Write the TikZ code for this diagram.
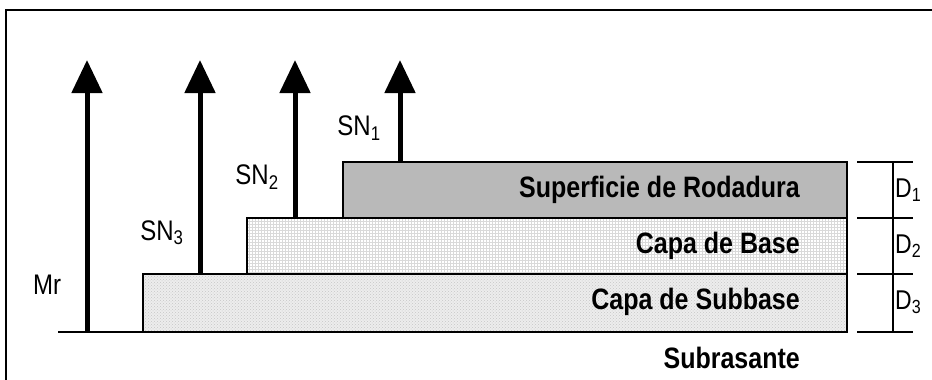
\documentclass[tikz,border=0pt]{standalone}
\usepackage{fontspec}
\setmainfont{Liberation Sans}
\usetikzlibrary{arrows.meta,patterns}
% tall text, as set in the drawing
\newcommand{\tall}[1]{\scalebox{1}[1.18]{#1}}
\begin{document}
\begin{tikzpicture}[x=1pt,y=-1pt,
  layer/.style={draw=black,line width=1.5pt,rectangle,anchor=north west,
    inner sep=0pt,outer sep=0pt},
  layertext/.style={font=\bfseries\fontsize{25}{29}\selectfont,anchor=east,inner sep=0pt},
  sntext/.style={font=\fontsize{24}{28}\selectfont,inner sep=0pt},
  dimtext/.style={font=\fontsize{23}{27}\selectfont,anchor=west,inner sep=0pt},
  snarrow/.style={line width=5pt,-{Triangle[width=30pt,length=33pt]}},
  dimline/.style={line width=1.2pt}]
\useasboundingbox (0,0) rectangle (932,380);
% outer frame (open to the right and bottom)
\draw[line width=2pt] (6,380) -- (6,10) -- (932,10);

% pavement layers
\node[layer,preaction={fill=gray!14},pattern=crosshatch dots,pattern color=gray!45,
  minimum width=704pt,minimum height=58pt] (sub) at (143,274) {};
\node[layer,pattern=grid,pattern color=gray!30,
  minimum width=600pt,minimum height=56pt] (base) at (247,218) {};
\node[layer,fill=gray!55,
  minimum width=504pt,minimum height=56pt] (surf) at (343,162) {};

% subgrade line
\coordinate (g0) at (58,332);
\coordinate (g1) at (847,332);
\draw[line width=1.5pt] (g0) -- (g1);

% layer names
\node[layertext] (tsurf) at (800,190) {\tall{Superficie de Rodadura}};
\node[layertext] (tbase) at (800,246) {\tall{Capa de Base}};
\node[layertext] (tsub) at (800,302) {\tall{Capa de Subbase}};
\node[layertext] (tsubr) at (800,358) {\tall{Subrasante}};

% structural number arrows
\coordinate (a0) at (87,332);   \coordinate (b0) at (87,60);
\coordinate (a3) at (200,274);  \coordinate (b3) at (200,60);
\coordinate (a2) at (295,218);  \coordinate (b2) at (295,60);
\coordinate (a1) at (400,162);  \coordinate (b1) at (400,60);
\draw[snarrow] (a0) -- (b0);
\draw[snarrow] (a3) -- (b3);
\draw[snarrow] (a2) -- (b2);
\draw[snarrow] (a1) -- (b1);

\node[sntext] (mr) at (47,285) {\tall{Mr}};
\node[sntext] (sn3) at (162,233) {\tall{SN\textsubscript{3}}};
\node[sntext] (sn2) at (257,177) {\tall{SN\textsubscript{2}}};
\node[sntext] (sn1) at (359,128) {\tall{SN\textsubscript{1}}};

% thickness dimensions
\coordinate (t0) at (857,162); \coordinate (u0) at (913,162);
\coordinate (t1) at (857,218); \coordinate (u1) at (913,218);
\coordinate (t2) at (857,274); \coordinate (u2) at (913,274);
\coordinate (t3) at (857,332); \coordinate (u3) at (913,332);
\coordinate (v0) at (893,162); \coordinate (v1) at (893,332);
\draw[dimline] (t0) -- (u0) (t1) -- (u1) (t2) -- (u2) (t3) -- (u3);
\draw[dimline] (v0) -- (v1);
\node[dimtext] (d1) at (895,190) {\tall{D\textsubscript{1}}};
\node[dimtext] (d2) at (895,246) {\tall{D\textsubscript{2}}};
\node[dimtext] (d3) at (895,302) {\tall{D\textsubscript{3}}};
\end{tikzpicture}
\end{document}
